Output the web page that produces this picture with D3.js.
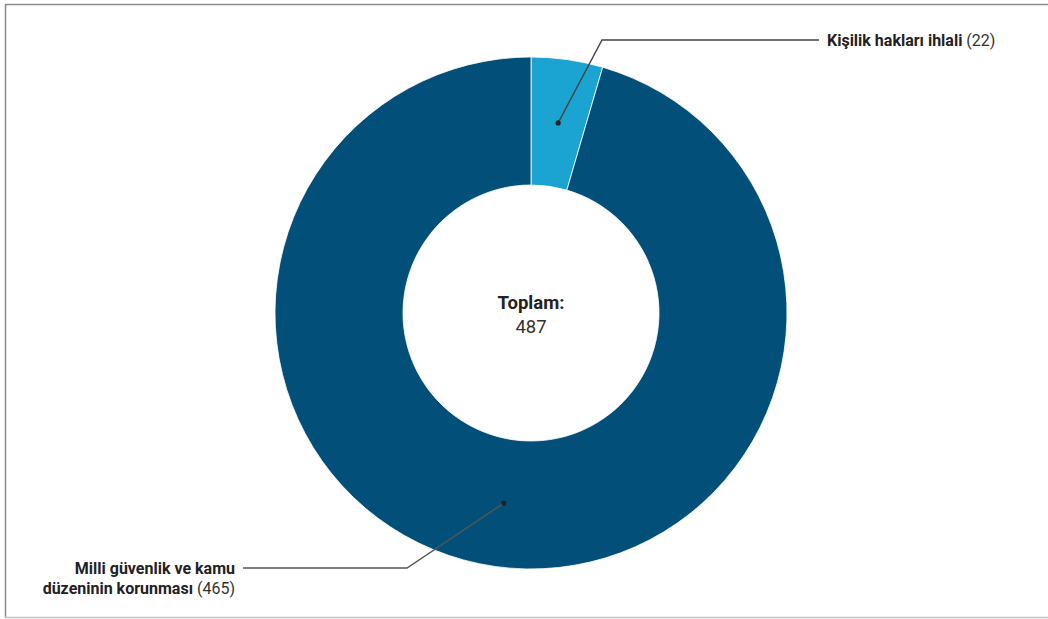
<!DOCTYPE html>
<html><head><meta charset="utf-8">
<script src="https://cdn.jsdelivr.net/npm/d3@7"></script>
<style>
body{margin:0;background:#fff;font-family:Roboto, sans-serif;}
svg{display:block;}
</style></head>
<body><svg id="chart" width="1048" height="619"></svg>
<script>
const categories = ["Kişilik hakları ihlali", "Milli güvenlik ve kamu düzeninin korunması"];
const labelLines = [["Kişilik hakları ihlali"], ["Milli güvenlik ve kamu", "düzeninin korunması"]];
const values = [22, 465];
const colors = ["#1ba3d1", "#02507a"];
const totalLabel = "Toplam:";

const svg = d3.select("#chart");
const W = 1048, H = 619;
// frame
svg.append("line").attr("x1",5.5).attr("y1",4.5).attr("x2",W).attr("y2",4.5).attr("stroke","#8a8a8a").attr("stroke-width",1.5);
svg.append("line").attr("x1",5.5).attr("y1",4).attr("x2",5.5).attr("y2",618).attr("stroke","#8a8a8a").attr("stroke-width",1.5);
svg.append("line").attr("x1",5).attr("y1",617.5).attr("x2",W).attr("y2",617.5).attr("stroke","#c4c4c4").attr("stroke-width",1.5);

const cx = 531, cy = 313, R = 256, r0 = 128;
const g = svg.append("g").attr("transform",`translate(${cx},${cy})`);
const pie = d3.pie().sort(null).value(d=>d)(values);
const arc = d3.arc().innerRadius(r0).outerRadius(R);
g.selectAll("path").data(pie).join("path")
  .attr("d",arc).attr("fill",(d,i)=>colors[i])
  .attr("stroke","#ffffff").attr("stroke-width",1).attr("stroke-opacity",0.8);

const total = d3.sum(values);
g.append("text").attr("text-anchor","middle").attr("y",-4)
  .attr("font-weight","700").attr("font-size",18.5).attr("fill","#222").text(totalLabel);
g.append("text").attr("text-anchor","middle").attr("y",20)
  .attr("font-size",18.5).attr("fill","#333").text(total);

// labels
const labelArc = d3.arc().innerRadius(r0).outerRadius(R);
const layouts = [
  {elbow:[602-cx, 40-cy], end:[819-cx, 40-cy], anchor:"start", tx:827-cx},
  {elbow:[407-cx, 568-cy], end:[243-cx, 568-cy], anchor:"end", tx:235-cx}
];
pie.forEach((d,i)=>{
  const c = labelArc.centroid(d);
  const L = layouts[i];
  g.append("polyline").attr("points",[c, L.elbow, L.end].map(p=>p.join(",")).join(" "))
    .attr("fill","none").attr("stroke", i===0?"#444":"#555").attr("stroke-width",1.4);
  g.append("circle").attr("cx",c[0]).attr("cy",c[1]).attr("r",2.6).attr("fill","#222");
  const lines = labelLines[i];
  const t = g.append("text").attr("text-anchor",L.anchor).attr("font-size",16).attr("fill","#222");
  lines.forEach((ln,j)=>{
    const ts = t.append("tspan").attr("x",L.tx).attr("y",L.end[1]+6+j*20);
    ts.append("tspan").attr("font-weight","700").text(ln);
    if(j===lines.length-1){
      ts.append("tspan").attr("font-weight","400").attr("fill","#333").text(" ("+values[i]+")");
    }
  });
});
</script></body></html>
